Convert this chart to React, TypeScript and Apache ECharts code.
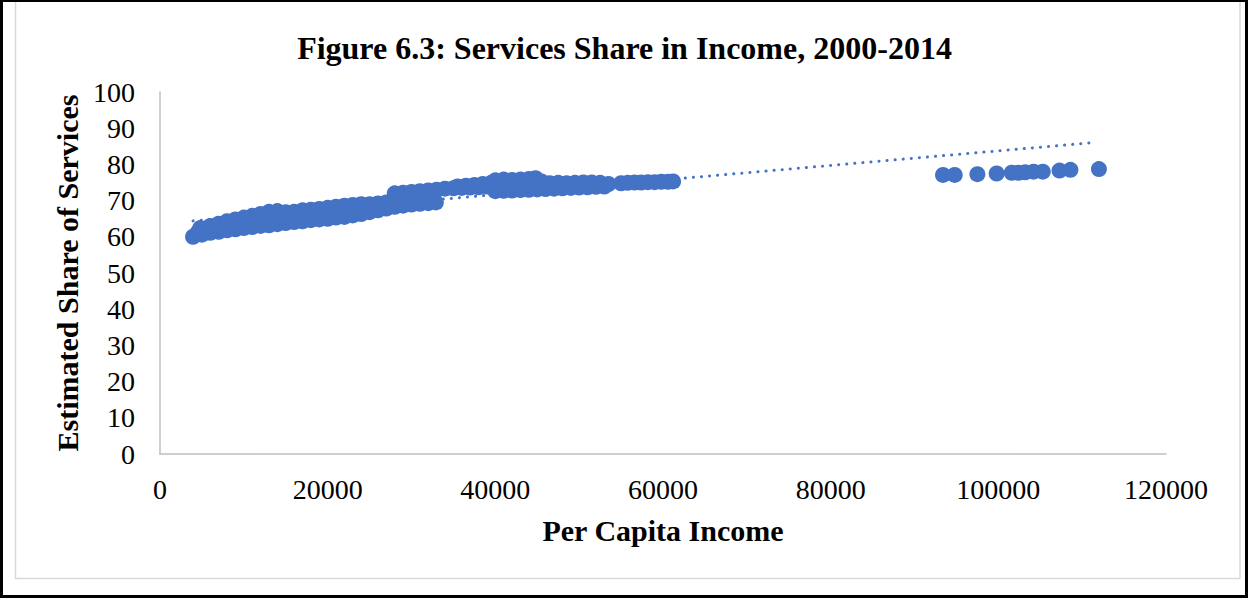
import React, { useEffect, useRef } from "react";
import * as echarts from "echarts";

const chartTitle = "Figure 6.3: Services Share in Income, 2000-2014";
const xAxisName = "Per Capita Income";
const yAxisName = "Estimated Share of Services";

// [per capita income, estimated share of services]
const lowerBand: [number, number][] = [
  [3940, 60.0], [5000, 60.6], [6000, 61.1], [7000, 61.4], [8000, 61.8], [9000, 62.1],
  [10000, 62.4], [11000, 62.7], [12000, 63.0], [13000, 63.2], [14000, 63.5], [15000, 63.8],
  [16000, 64.1], [17000, 64.3], [18000, 64.6], [19000, 64.8], [20000, 65.0], [21000, 65.3],
  [22000, 65.5], [23000, 65.9], [24000, 66.3], [25000, 66.8], [26000, 67.3], [27000, 67.8],
  [28000, 68.3], [29000, 68.6], [30000, 68.9], [31000, 69.1], [32000, 69.3], [32900, 69.5],
];

const middleBand: [number, number][] = [
  [4500, 61.2], [5500, 61.8], [6500, 62.3], [7500, 62.8], [8500, 63.2], [9500, 63.6],
  [10500, 64.0], [11500, 64.4], [12500, 64.9], [13500, 65.3], [14500, 65.4], [15500, 65.5],
  [16500, 65.7], [17500, 66.0], [18500, 66.2], [19500, 66.4], [20500, 66.7], [21500, 67.0],
  [22500, 67.2], [23500, 67.5], [24500, 67.0], [25500, 68.0], [26500, 68.4], [27500, 69.0],
  [28500, 70.2], [29500, 70.5], [30500, 70.8], [31500, 71.0], [32500, 71.2],
];

const upperBand: [number, number][] = [
  [4800, 62.4], [6000, 63.0], [7000, 63.6], [8000, 64.3], [9000, 64.8], [10000, 65.3],
  [11000, 65.8], [12000, 66.3], [13000, 66.9], [14000, 67.1], [15000, 66.8], [16000, 66.9],
  [17000, 67.3], [18000, 67.5], [19000, 67.7], [20000, 68.0], [21000, 68.3], [22000, 68.6],
  [23000, 68.8], [24000, 69.0], [25000, 69.0], [26000, 69.2], [27000, 69.5], [28000, 72.0],
  [29000, 72.2], [30000, 72.4], [31000, 72.6], [32000, 72.8], [33000, 73.0],
];

const middleIncome: [number, number][] = [
  [34000, 73.3], [35000, 73.4], [36000, 73.5], [37000, 73.6], [38000, 73.7], [39000, 73.9],
  [35500, 73.9], [36500, 74.1], [37500, 74.3], [38500, 74.6], [39500, 74.9],
  [40000, 72.6], [41000, 72.7], [42000, 72.8], [43000, 72.9], [44000, 73.0], [45000, 73.1],
  [40500, 74.2], [41500, 74.3], [42500, 74.4], [43500, 74.5], [44500, 74.6],
  [40000, 75.6], [41000, 75.8], [42000, 75.7], [43000, 75.8], [44000, 76.0], [44800, 76.2],
  [45500, 75.3],
];

const upperMiddleIncome: [number, number][] = [
  [46000, 73.2], [47000, 73.3], [48000, 73.4], [49000, 73.5], [50000, 73.6], [51000, 73.7],
  [52000, 73.8], [53000, 73.9],
  [46500, 74.8], [47500, 74.9], [48500, 74.8], [49500, 74.9], [50500, 75.0], [51500, 75.0],
  [52500, 74.9], [53500, 74.6],
  [55000, 74.8], [55800, 74.9], [56600, 75.0], [57400, 75.0], [58200, 75.1], [59000, 75.1],
  [59800, 75.2], [60600, 75.2], [61200, 75.3],
];

const highIncome: [number, number][] = [
  [93400, 77.1], [94800, 77.1], [97500, 77.3], [99800, 77.5], [101600, 77.7], [102400, 77.7],
  [103200, 77.8], [104200, 78.0], [105300, 78.0], [107300, 78.3], [108600, 78.5], [112000, 78.7],
];

const trendIncome = [3940, 111200];
const trendShare = [64.4, 86.0];

export default function App() {
  const ref = useRef<HTMLDivElement>(null);
  useEffect(() => {
    if (!ref.current) return;
    const chart = echarts.init(ref.current, null, { renderer: "svg" });
    const serif = "'Liberation Serif', 'Times New Roman', serif";
    const blue = "#4472C4";
    const points = [
      ...lowerBand,
      ...middleBand,
      ...upperBand,
      ...middleIncome,
      ...upperMiddleIncome,
      ...highIncome,
    ];
    chart.setOption({
      animation: false,
      backgroundColor: "#ffffff",
      title: {
        text: chartTitle,
        left: "center",
        top: 27,
        textStyle: { fontFamily: serif, fontWeight: "bold", fontSize: 32, color: "#000" },
      },
      grid: { left: 160, right: 83, top: 92, bottom: 146 },
      xAxis: {
        type: "value",
        min: 0,
        max: 120000,
        interval: 20000,
        name: xAxisName,
        nameLocation: "middle",
        nameGap: 61,
        nameTextStyle: { fontFamily: serif, fontWeight: "bold", fontSize: 30, color: "#000" },
        axisLine: { show: true, lineStyle: { color: "#bfbfbf", width: 1.5 } },
        axisTick: { show: false },
        splitLine: { show: false },
        axisLabel: {
          fontFamily: serif,
          fontSize: 28,
          color: "#000",
          margin: 21,
          formatter: (v: number) => String(v),
        },
      },
      yAxis: {
        type: "value",
        min: 0,
        max: 100,
        interval: 10,
        name: yAxisName,
        nameLocation: "middle",
        nameGap: 64,
        nameRotate: 90,
        nameTextStyle: { fontFamily: serif, fontWeight: "bold", fontSize: 30, color: "#000" },
        axisLine: { show: true, lineStyle: { color: "#bfbfbf", width: 1.5 } },
        axisTick: { show: false },
        splitLine: { show: false },
        axisLabel: { fontFamily: serif, fontSize: 28, color: "#000", margin: 25 },
      },
      graphic: [
        {
          type: "rect",
          silent: true,
          z: -10,
          shape: { x: 15.5, y: -10, width: 1224.5, height: 588.5 },
          style: { fill: "none", stroke: "#d9d9d9", lineWidth: 1.5 },
        },
        {
          type: "rect",
          silent: true,
          z: -10,
          shape: { x: 1.5, y: 0.5, width: 1245, height: 596 },
          style: { fill: "none", stroke: "#000000", lineWidth: 3 },
        },
      ],
      series: [
        {
          type: "line",
          data: trendIncome.map((x, i) => [x, trendShare[i]]),
          showSymbol: false,
          symbol: "none",
          lineStyle: { color: blue, width: 3, type: [0.1, 8], cap: "round" },
          z: 1,
        },
        {
          type: "scatter",
          data: points,
          symbol: "circle",
          symbolSize: 16,
          itemStyle: { color: blue, opacity: 1 },
          z: 2,
        },
      ],
    });
    return () => chart.dispose();
  }, []);
  return (
    <div
      ref={ref}
      style={{ position: "fixed", left: 0, top: 0, width: 1249, height: 600 }}
    />
  );
}
